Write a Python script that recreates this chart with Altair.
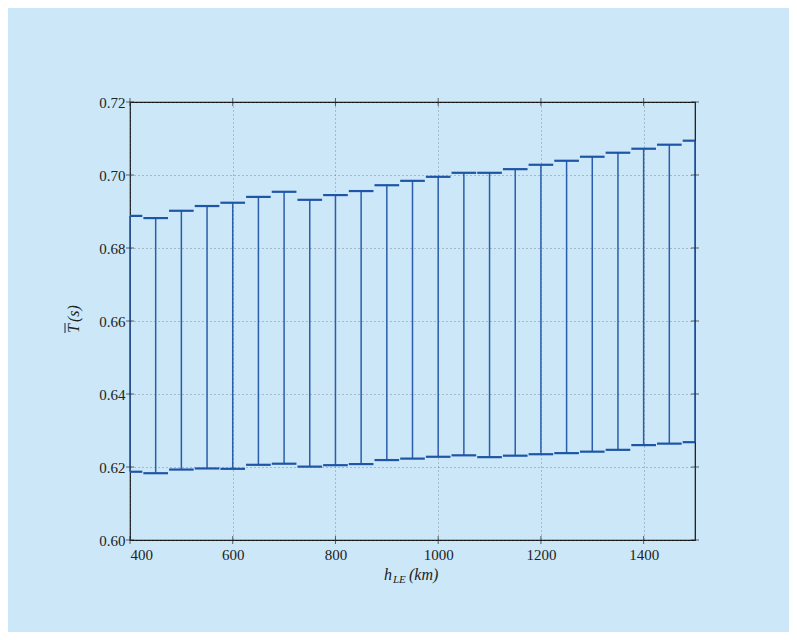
import altair as alt
import pandas as pd

h_le = [400, 450, 500, 550, 600, 650, 700, 750, 800, 850, 900, 950,
        1000, 1050, 1100, 1150, 1200, 1250, 1300, 1350, 1400, 1450, 1500]
t_low = [0.6187, 0.6183, 0.6193, 0.6196, 0.6195, 0.6206, 0.6209, 0.6201,
         0.6205, 0.6208, 0.6219, 0.6223, 0.6228, 0.6232, 0.6227, 0.6231,
         0.6235, 0.6238, 0.6242, 0.6247, 0.6260, 0.6264, 0.6268]
t_high = [0.6888, 0.6882, 0.6902, 0.6915, 0.6924, 0.6940, 0.6954, 0.6932,
          0.6945, 0.6956, 0.6972, 0.6984, 0.6995, 0.7006, 0.7006, 0.7016,
          0.7028, 0.7039, 0.7050, 0.7061, 0.7072, 0.7083, 0.7094]
x_ticks = [400, 600, 800, 1000, 1200, 1400]
y_ticks = [0.60, 0.62, 0.64, 0.66, 0.68, 0.70, 0.72]

W, H = 565, 438
BG = "#cce8f8"
BAR = "#2a5dab"
CAP = "#1f55a6"
FONT = "Liberation Serif"
INK = "#222222"

df = pd.DataFrame({"h": h_le, "lo": t_low, "hi": t_high})
xt = pd.DataFrame({"v": x_ticks})
yt = pd.DataFrame({"v": y_ticks})

xscale = alt.Scale(domain=[400, 1500], nice=False, zero=False)
yscale = alt.Scale(domain=[0.60, 0.72], nice=False, zero=False)

xaxis = alt.Axis(values=x_ticks, format="d", title=None, grid=True,
                 ticks=False, domain=False, labelPadding=7)
yaxis = alt.Axis(values=y_ticks, format=".2f", title=None, grid=True,
                 ticks=False, domain=False, labelPadding=5)

base = alt.Chart(df)

bars = base.mark_rule(color=BAR, strokeWidth=1.5).encode(
    x=alt.X("h:Q", scale=xscale, axis=xaxis),
    y=alt.Y("lo:Q", scale=yscale, axis=yaxis),
    y2="hi:Q",
)

caps_hi = base.transform_calculate(
    xl="datum.h - 24", xr="datum.h + 24"
).mark_rule(color=CAP, strokeWidth=2.2, clip=True).encode(
    x=alt.X("xl:Q", scale=xscale), x2="xr:Q",
    y=alt.Y("hi:Q", scale=yscale),
)
caps_lo = base.transform_calculate(
    xl="datum.h - 24", xr="datum.h + 24"
).mark_rule(color=CAP, strokeWidth=2.2, clip=True).encode(
    x=alt.X("xl:Q", scale=xscale), x2="xr:Q",
    y=alt.Y("lo:Q", scale=yscale),
)

tick_l = alt.Chart(yt).mark_tick(color=INK, orient="horizontal", size=8, thickness=1).encode(
    x=alt.value(0), y=alt.Y("v:Q", scale=yscale))
tick_r = alt.Chart(yt).mark_tick(color=INK, orient="horizontal", size=8, thickness=1).encode(
    x=alt.value(W), y=alt.Y("v:Q", scale=yscale))
tick_b = alt.Chart(xt).mark_tick(color=INK, orient="vertical", size=8, thickness=1).encode(
    x=alt.X("v:Q", scale=xscale), y=alt.value(H))
tick_t = alt.Chart(xt).mark_tick(color=INK, orient="vertical", size=8, thickness=1).encode(
    x=alt.X("v:Q", scale=xscale), y=alt.value(0))

def label(txt, x, y, size, angle=0, style="italic"):
    return alt.Chart(xt.head(1)).mark_text(
        font=FONT, fontSize=size, fontStyle=style, fontWeight="normal",
        align="left", baseline="alphabetic", color=INK, angle=angle,
    ).encode(x=alt.value(x), y=alt.value(y), text=alt.value(txt))

# x-axis title  h_LE(km)
title_h = label("h", 254, 478, 16)
title_le = label("LE", 263, 481, 11)
title_km = label("(km)", 279, 478, 16)

# y-axis title  T-bar(s), rotated
ty_T = label("T", -51, 231, 16, angle=270)
ty_s = label("(s)", -51, 220, 16, angle=270)
ty_bar = alt.Chart(xt.head(1)).mark_rule(color=INK, strokeWidth=1).encode(
    x=alt.value(-65), y=alt.value(221), y2=alt.value(231))

chart = alt.layer(
    bars, caps_hi, caps_lo, tick_l, tick_r, tick_b, tick_t,
    title_h, title_le, title_km, ty_T, ty_s, ty_bar,
).properties(
    width=W, height=H,
    autosize=alt.AutoSizeParams(type="none"),
    padding={"left": 122, "top": 94, "right": 94, "bottom": 92},
    background=BG,
).configure_view(
    stroke="#111111", strokeWidth=1.2, fill=BG,
).configure_axis(
    gridColor="#555555", gridDash=[1, 3], gridWidth=0.8, gridOpacity=0.8,
    labelFont=FONT, labelFontSize=15, labelColor=INK,
)

chart.save("out.html", embed_options={"renderer": "svg", "actions": False})
